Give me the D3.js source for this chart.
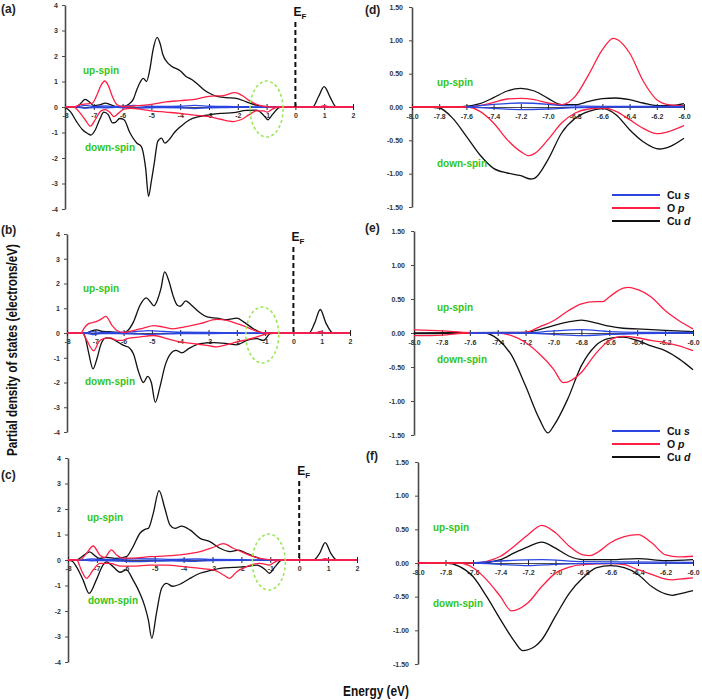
<!DOCTYPE html>
<html><head><meta charset="utf-8">
<script src="https://cdn.jsdelivr.net/npm/d3@7"></script>
<style>body{margin:0;background:#fff}svg{display:block}text{font-family:"Liberation Sans",Arial,sans-serif}</style>
</head><body><svg id="c" width="702" height="700"></svg>
<script>
// ---------- tick values ----------
const leftEnergyTicks = [-8,-7,-6,-5,-4,-3,-2,-1,0,1,2];
const leftDosTicks = [-4,-3,-2,-1,0,1,2,3,4];
const rightEnergyTicks = [-8.0,-7.8,-7.6,-7.4,-7.2,-7.0,-6.8,-6.6,-6.4,-6.2,-6.0];
const rightDosTicks = [-1.5,-1.0,-0.5,0,0.5,1.0,1.5];
const legendNames = [["Cu ","s"],["O ","p"],["Cu ","d"]];

// ---------- panel (a) [energy, PDOS] ----------
const aCuSUp = [[-8,0],[-7.6,0],[-7.3,0.06],[-7.0,0.02],[-6.6,0.04],[-6.2,0.01],[-5.6,0.06],[-5.2,0.03],[-4.6,0.02],[-4.0,0.03],[-3.5,0.06],[-3.0,0.03],[-2.4,0.02],[-1.6,0.01],[-1.2,0],[2,0]];
const aCuSDn = [[-8,0],[-7.6,0],[-7.3,-0.05],[-7.0,-0.02],[-6.6,-0.03],[-6.2,-0.01],[-5.6,-0.05],[-5.2,-0.03],[-4.6,-0.02],[-4.0,-0.03],[-3.5,-0.06],[-3.0,-0.03],[-2.4,-0.02],[-1.6,-0.01],[-1.2,0],[2,0]];
const aOpUp = [[-8,0],[-7.7,0],[-7.45,0.1],[-7.25,0.12],[-7.05,0.15],[-6.9,0.45],[-6.75,0.85],[-6.62,1.02],[-6.5,0.85],[-6.35,0.4],[-6.2,0.1],[-6.0,0.02],[-5.8,0.02],[-5.5,0.05],[-5.0,0.1],[-4.5,0.2],[-4.0,0.25],[-3.5,0.3],[-3.0,0.42],[-2.5,0.45],[-2.1,0.56],[-1.85,0.45],[-1.6,0.25],[-1.35,0.1],[-1.1,0.03],[-0.8,0],[0.8,0],[1.0,0.05],[1.2,0],[2,0]];
const aOpDn = [[-8,0],[-7.7,0],[-7.5,-0.2],[-7.3,-0.5],[-7.12,-0.75],[-6.95,-0.5],[-6.75,-0.15],[-6.6,-0.1],[-6.45,-0.2],[-6.3,-0.38],[-6.15,-0.25],[-5.95,-0.08],[-5.7,-0.05],[-5.3,-0.1],[-5.0,-0.15],[-4.5,-0.2],[-4.0,-0.25],[-3.5,-0.32],[-3.0,-0.38],[-2.6,-0.48],[-2.15,-0.57],[-1.9,-0.5],[-1.6,-0.3],[-1.35,-0.15],[-1.1,-0.15],[-0.98,-0.2],[-0.8,-0.08],[-0.6,0],[2,0]];
const aCuDUp = [[-8,0],[-7.6,0],[-7.45,0.15],[-7.3,0.3],[-7.15,0.2],[-7.0,0.05],[-6.8,0.08],[-6.6,0.15],[-6.4,0.08],[-6.2,0.02],[-6.0,0.02],[-5.8,0.1],[-5.63,0.3],[-5.5,0.7],[-5.4,0.95],[-5.28,1.12],[-5.17,1.0],[-5.05,1.5],[-4.95,2.2],[-4.8,2.73],[-4.7,2.5],[-4.6,2.05],[-4.45,1.75],[-4.3,1.6],[-4.0,1.42],[-3.8,1.2],[-3.6,1.08],[-3.4,0.9],[-3.2,0.7],[-3.0,0.55],[-2.75,0.43],[-2.4,0.37],[-2.05,0.34],[-1.7,0.2],[-1.35,0.07],[-1.0,0],[0.6,0],[0.8,0.4],[1.0,0.8],[1.2,0.4],[1.4,0.02],[1.5,0],[2,0]];
const aCuDDn = [[-8,0],[-7.8,-0.2],[-7.6,-0.57],[-7.4,-0.88],[-7.2,-1.05],[-7.1,-1.1],[-6.95,-0.9],[-6.8,-0.5],[-6.65,-0.2],[-6.5,-0.3],[-6.35,-0.62],[-6.25,-0.6],[-6.1,-0.45],[-5.95,-0.5],[-5.75,-1.0],[-5.5,-1.42],[-5.35,-1.55],[-5.2,-2.4],[-5.1,-3.5],[-5.0,-2.9],[-4.9,-2.2],[-4.78,-1.35],[-4.65,-1.22],[-4.53,-1.42],[-4.4,-1.3],[-4.2,-1.0],[-4.0,-0.78],[-3.7,-0.52],[-3.35,-0.38],[-3.0,-0.31],[-2.6,-0.25],[-2.15,-0.22],[-1.7,-0.13],[-1.35,-0.12],[-1.12,-0.3],[-0.95,-0.5],[-0.8,-0.3],[-0.6,-0.05],[-0.5,0],[2,0]];

// ---------- panel (b) ----------
const bCuSUp = [[-8,0],[-7.4,0],[-7.1,0.05],[-6.8,0.02],[-6.2,0.02],[-5.6,0.05],[-5.1,0.1],[-4.6,0.06],[-4.0,0.03],[-3.0,0.02],[-2.0,0.01],[-1.2,0],[2,0]];
const bCuSDn = [[-8,0],[-7.4,0],[-7.1,-0.06],[-6.8,-0.02],[-6.2,-0.02],[-5.6,-0.04],[-5.1,-0.06],[-4.6,-0.04],[-4.0,-0.02],[-3.0,-0.02],[-2.0,-0.01],[-1.2,0],[2,0]];
const bOpUp = [[-8,0],[-7.5,0],[-7.41,0.17],[-7.24,0.38],[-7.0,0.45],[-6.82,0.54],[-6.63,0.67],[-6.41,0.31],[-6.24,0.1],[-6.0,0.02],[-5.65,0.1],[-5.3,0.2],[-4.94,0.3],[-4.59,0.24],[-4.24,0.17],[-3.88,0.24],[-3.3,0.38],[-2.7,0.55],[-2.35,0.51],[-2.0,0.38],[-1.65,0.24],[-1.29,0.07],[-0.94,0],[0.75,0],[0.95,0.06],[1.15,0],[2,0]];
const bOpDn = [[-8,0],[-7.45,0],[-7.3,-0.3],[-7.05,-0.72],[-6.88,-0.36],[-6.7,-0.23],[-6.47,-0.2],[-6.24,-0.3],[-6.06,-0.3],[-5.88,-0.23],[-5.41,-0.16],[-4.94,-0.1],[-4.47,-0.23],[-4.0,-0.36],[-3.53,-0.43],[-3.06,-0.5],[-2.7,-0.56],[-2.35,-0.47],[-2.0,-0.36],[-1.65,-0.27],[-1.29,-0.16],[-0.94,-0.03],[-0.7,0],[2,0]];
const bCuDUp = [[-8,0],[-7.3,0],[-7.15,0.08],[-6.95,0.13],[-6.75,0.06],[-6.5,0.05],[-6.2,0.02],[-6.0,0.01],[-5.85,0.1],[-5.65,0.45],[-5.42,1.12],[-5.2,1.42],[-5.05,1.25],[-4.93,1.1],[-4.8,1.35],[-4.68,1.8],[-4.55,2.47],[-4.4,2.1],[-4.25,1.5],[-4.1,1.12],[-4.0,1.08],[-3.8,1.3],[-3.6,1.12],[-3.3,0.82],[-3.05,0.65],[-2.7,0.6],[-2.35,0.54],[-2.0,0.6],[-1.76,0.45],[-1.41,0.17],[-1.06,0],[0.55,0],[0.75,0.4],[0.95,0.95],[1.15,0.4],[1.4,0],[2,0]];
const bCuDDn = [[-8,0],[-7.45,0],[-7.35,-0.2],[-7.24,-0.77],[-7.08,-1.45],[-6.94,-1.03],[-6.8,-0.45],[-6.62,-0.2],[-6.45,-0.22],[-6.3,-0.3],[-6.0,-0.5],[-5.82,-0.58],[-5.65,-0.85],[-5.47,-1.57],[-5.3,-2.0],[-5.15,-1.75],[-5.02,-2.0],[-4.88,-2.8],[-4.72,-2.2],[-4.53,-1.3],[-4.35,-0.85],[-4.15,-0.7],[-3.95,-0.8],[-3.7,-0.63],[-3.3,-0.43],[-2.82,-0.39],[-2.35,-0.43],[-2.0,-0.48],[-1.65,-0.3],[-1.29,-0.23],[-1.06,-0.3],[-0.82,-0.03],[-0.6,0],[2,0]];

// ---------- panel (c) ----------
const cCuSUp = [[-8,0],[-7.5,0],[-7.2,0.04],[-6.8,0.02],[-6.2,0.03],[-5.6,0.05],[-5.0,0.04],[-4.4,0.02],[-3.6,0.04],[-3.0,0.02],[-2.0,0.01],[-1.2,0],[2,0]];
const cCuSDn = [[-8,0],[-7.5,0],[-7.2,-0.03],[-6.8,-0.02],[-6.2,-0.04],[-5.6,-0.06],[-5.0,-0.04],[-4.4,-0.03],[-3.6,-0.05],[-3.0,-0.02],[-2.0,-0.01],[-1.2,0],[2,0]];
const cOpUp = [[-8,0],[-7.6,0],[-7.36,0.26],[-7.13,0.55],[-6.9,0.2],[-6.73,0.1],[-6.5,0.4],[-6.32,0.2],[-6.1,0.07],[-5.75,0.07],[-5.17,0.13],[-4.59,0.16],[-4.0,0.22],[-3.43,0.33],[-2.97,0.5],[-2.62,0.64],[-2.28,0.46],[-1.93,0.29],[-1.58,0.13],[-1.24,0.04],[-0.89,0],[0.7,0],[0.9,0.05],[1.1,0],[2,0]];
const cOpDn = [[-8,0],[-7.7,0],[-7.54,-0.39],[-7.36,-0.72],[-7.13,-0.39],[-6.9,-0.13],[-6.55,-0.13],[-6.2,-0.24],[-5.75,-0.24],[-5.17,-0.2],[-4.59,-0.2],[-4.0,-0.26],[-3.43,-0.33],[-2.97,-0.39],[-2.6,-0.6],[-2.42,-0.72],[-2.16,-0.46],[-1.82,-0.26],[-1.36,-0.13],[-1.03,-0.2],[-0.77,-0.03],[-0.6,0],[2,0]];
const cCuDUp = [[-8,0],[-7.7,0],[-7.5,0.15],[-7.25,0.32],[-7.05,0.15],[-6.9,0.06],[-6.67,0.1],[-6.32,0.06],[-5.98,0.13],[-5.75,0.52],[-5.51,1.05],[-5.34,1.2],[-5.22,1.24],[-5.05,1.83],[-4.85,2.72],[-4.65,2.03],[-4.47,1.37],[-4.3,1.24],[-4.07,1.33],[-3.78,1.18],[-3.43,0.85],[-3.09,0.72],[-2.74,0.46],[-2.39,0.33],[-2.1,0.39],[-1.82,0.26],[-1.47,0.1],[-1.12,0],[0.5,0],[0.7,0.25],[0.9,0.68],[1.1,0.25],[1.3,0],[2,0]];
const cCuDDn = [[-8,0],[-7.85,-0.05],[-7.71,-0.26],[-7.48,-0.78],[-7.27,-1.31],[-7.02,-0.78],[-6.79,-0.2],[-6.67,-0.07],[-6.44,-0.26],[-6.2,-0.48],[-5.98,-0.39],[-5.75,-0.78],[-5.51,-1.31],[-5.34,-1.83],[-5.22,-2.35],[-5.1,-3.07],[-4.94,-2.09],[-4.76,-1.11],[-4.59,-0.92],[-4.38,-1.03],[-4.07,-0.92],[-3.78,-0.72],[-3.43,-0.52],[-3.09,-0.42],[-2.74,-0.33],[-2.28,-0.29],[-1.82,-0.26],[-1.47,-0.2],[-1.18,-0.37],[-1.03,-0.52],[-0.83,-0.26],[-0.6,0],[2,0]];

// ---------- panel (d) ----------
const dCuSUp = [[-7.6,0],[-7.4,0.04],[-7.2,0.06],[-7.0,0.04],[-6.9,0.02],[-6.6,0.01],[-6.0,0.01]];
const dCuSDn = [[-7.6,0],[-7.4,-0.02],[-7.2,-0.04],[-7.0,-0.03],[-6.8,-0.01],[-6.6,0],[-6.0,0]];
const dOpUp = [[-8,0],[-7.6,0],[-7.5,0.02],[-7.4,0.07],[-7.3,0.12],[-7.2,0.13],[-7.1,0.11],[-7.0,0.06],[-6.9,0.035],[-6.8,0.16],[-6.7,0.49],[-6.6,0.86],[-6.52,1.03],[-6.4,0.81],[-6.3,0.39],[-6.2,0.11],[-6.1,0.03],[-6.0,0.02]];
const dOpDn = [[-8,0],[-7.6,0],[-7.5,-0.065],[-7.4,-0.24],[-7.3,-0.49],[-7.2,-0.67],[-7.14,-0.73],[-7.1,-0.7],[-7.0,-0.49],[-6.9,-0.24],[-6.8,-0.09],[-6.7,-0.03],[-6.6,-0.015],[-6.5,-0.065],[-6.4,-0.19],[-6.3,-0.32],[-6.2,-0.4],[-6.1,-0.36],[-6.0,-0.28]];
const dCuDUp = [[-8,0],[-7.65,0],[-7.5,0.05],[-7.4,0.14],[-7.3,0.24],[-7.2,0.28],[-7.1,0.24],[-7.0,0.13],[-6.9,0.035],[-6.8,0.035],[-6.7,0.085],[-6.6,0.125],[-6.5,0.135],[-6.4,0.11],[-6.3,0.06],[-6.2,0.02],[-6.1,0.02],[-6.0,0.05]];
const dCuDDn = [[-8,0],[-7.9,0],[-7.8,-0.015],[-7.7,-0.17],[-7.6,-0.44],[-7.5,-0.72],[-7.4,-0.92],[-7.3,-0.99],[-7.2,-1.03],[-7.13,-1.08],[-7.1,-1.07],[-7.0,-0.79],[-6.9,-0.39],[-6.8,-0.17],[-6.7,-0.065],[-6.6,-0.025],[-6.5,-0.115],[-6.4,-0.34],[-6.3,-0.52],[-6.18,-0.63],[-6.1,-0.59],[-6.0,-0.47]];

// ---------- panel (e) ----------
const eCuSUp = [[-7.6,0],[-7.2,0],[-7.0,0.03],[-6.8,0.05],[-6.6,0.02],[-6.4,0.01],[-6.0,0.01]];
const eCuSDn = [[-7.6,0],[-7.2,0],[-7.0,-0.02],[-6.8,-0.04],[-6.6,-0.02],[-6.4,-0.01],[-6.0,0]];
const eOpUp = [[-8,0.045],[-7.8,0.03],[-7.6,0.005],[-7.4,0],[-7.2,0.01],[-7.1,0.09],[-7.0,0.18],[-6.9,0.32],[-6.8,0.43],[-6.7,0.46],[-6.65,0.46],[-6.6,0.53],[-6.5,0.66],[-6.46,0.67],[-6.4,0.64],[-6.3,0.53],[-6.2,0.33],[-6.1,0.18],[-6.0,0.06]];
const eOpDn = [[-8,-0.04],[-7.8,-0.03],[-7.6,0],[-7.4,0],[-7.3,-0.04],[-7.2,-0.14],[-7.1,-0.31],[-7.0,-0.53],[-6.93,-0.73],[-6.8,-0.58],[-6.7,-0.31],[-6.6,-0.11],[-6.5,-0.05],[-6.4,-0.07],[-6.3,-0.11],[-6.2,-0.14],[-6.1,-0.19],[-6.0,-0.26]];
const eCuDUp = [[-8,0],[-7.2,0.01],[-7.1,0.05],[-7.0,0.11],[-6.9,0.16],[-6.8,0.19],[-6.7,0.15],[-6.6,0.1],[-6.5,0.07],[-6.4,0.06],[-6.2,0.04],[-6.0,0.02]];
const eCuDDn = [[-8,-0.01],[-7.6,0],[-7.5,0],[-7.4,-0.09],[-7.3,-0.33],[-7.2,-0.78],[-7.1,-1.27],[-7.04,-1.47],[-7.0,-1.37],[-6.9,-0.98],[-6.8,-0.48],[-6.7,-0.19],[-6.6,-0.08],[-6.5,-0.06],[-6.4,-0.11],[-6.3,-0.19],[-6.2,-0.26],[-6.1,-0.38],[-6.0,-0.54]];

// ---------- panel (f) ----------
const fCuSUp = [[-7.6,0],[-7.4,0.03],[-7.1,0.05],[-6.8,0.02],[-6.0,0.01]];
const fCuSDn = [[-7.6,0],[-7.4,-0.02],[-7.2,-0.04],[-7.0,-0.02],[-6.8,-0.01],[-6.0,0]];
const fOpUp = [[-8,0],[-7.6,0],[-7.5,0.025],[-7.4,0.1],[-7.3,0.25],[-7.2,0.42],[-7.1,0.56],[-7.0,0.45],[-6.9,0.25],[-6.8,0.12],[-6.75,0.11],[-6.7,0.15],[-6.6,0.3],[-6.5,0.39],[-6.4,0.42],[-6.3,0.3],[-6.2,0.12],[-6.1,0.09],[-6.0,0.1]];
const fOpDn = [[-8,0],[-7.7,0],[-7.6,-0.07],[-7.5,-0.25],[-7.4,-0.5],[-7.32,-0.71],[-7.2,-0.59],[-7.1,-0.35],[-7.0,-0.15],[-6.9,-0.06],[-6.8,-0.025],[-6.6,-0.01],[-6.5,-0.025],[-6.4,-0.1],[-6.3,-0.17],[-6.2,-0.24],[-6.15,-0.25],[-6.1,-0.24],[-6.0,-0.22]];
const fCuDUp = [[-8,0],[-7.55,0],[-7.4,0.05],[-7.3,0.15],[-7.2,0.24],[-7.1,0.31],[-7.0,0.22],[-6.9,0.1],[-6.8,0.05],[-6.6,0.05],[-6.4,0.065],[-6.2,0.035],[-6.0,0.05]];
const fCuDDn = [[-8,0],[-7.8,0],[-7.7,-0.05],[-7.6,-0.2],[-7.5,-0.5],[-7.4,-0.84],[-7.3,-1.16],[-7.24,-1.3],[-7.15,-1.24],[-7.1,-1.14],[-7.0,-0.79],[-6.9,-0.45],[-6.8,-0.22],[-6.7,-0.07],[-6.6,-0.04],[-6.5,-0.07],[-6.4,-0.17],[-6.3,-0.35],[-6.2,-0.46],[-6.15,-0.48],[-6.1,-0.46],[-6.0,-0.41]];

// ---------- styling ----------
const COL = {s:"#2b45e0", p:"#ff1f45", d:"#111111"};
const GREEN = "#33c41a";
const AX = "#4a4a4a";
const svg = d3.select("#c");

function drawPanel(cfg){
  const x = d3.scaleLinear().domain(cfg.xd).range([cfg.x0, cfg.x1]);
  const y = d3.scaleLinear().domain(cfg.yd).range([cfg.yb, cfg.yt]);
  const g = svg.append("g");
  const ya = g.append("g").attr("transform", `translate(${cfg.x0},0)`)
    .call(d3.axisLeft(y).tickValues(cfg.yTicks).tickSizeInner(3).tickSizeOuter(0).tickPadding(cfg.yPad).tickFormat(cfg.yFmt));
  ya.select(".domain").attr("stroke", AX).attr("stroke-width", 1.6);
  ya.selectAll(".tick line").attr("stroke", AX);
  ya.selectAll("text").attr("font-size", 7).attr("font-weight", "bold").attr("fill", "#333").attr("font-family","Liberation Sans, Arial, sans-serif");
  const y0 = y(0);
  const xa = g.append("g").attr("transform", `translate(0,${y0})`)
    .call(d3.axisBottom(x).tickValues(cfg.xTicks).tickSizeInner(3).tickSizeOuter(0).tickPadding(cfg.xPad).tickFormat(cfg.xFmt));
  xa.select(".domain").attr("stroke", AX).attr("stroke-width", 1.2);
  xa.selectAll(".tick line").attr("stroke", "#222").attr("y1", -3).attr("y2", 3);
  xa.selectAll("text").attr("font-size", 7).attr("font-weight", "bold").attr("fill", "#333").attr("font-family","Liberation Sans, Arial, sans-serif");
  const line = d3.line().x(d => x(d[0])).y(d => y(d[1])).curve(d3.curveMonotoneX);
  cfg.series.forEach(s => {
    g.append("path").datum(s.data).attr("d", line).attr("fill", "none")
      .attr("stroke", s.color).attr("stroke-width", 1.3).attr("stroke-linejoin","round");
  });
  g.append("text").attr("x", cfg.upPos[0]).attr("y", cfg.upPos[1]).text("up-spin")
    .attr("fill", GREEN).attr("font-size", 10).attr("font-weight", "bold");
  g.append("text").attr("x", cfg.dnPos[0]).attr("y", cfg.dnPos[1]).text("down-spin")
    .attr("fill", GREEN).attr("font-size", 10).attr("font-weight", "bold");
  g.append("text").attr("x", cfg.lab[0]).attr("y", cfg.lab[1]).text(cfg.label)
    .attr("font-size", 12).attr("font-weight", "bold").attr("fill", "#222");
  if (cfg.ef) {
    g.append("line").attr("x1", x(0)).attr("x2", x(0)).attr("y1", cfg.ef.top).attr("y2", y0)
      .attr("stroke", "#111").attr("stroke-width", 2).attr("stroke-dasharray", "5,3");
    const t = g.append("text").attr("x", x(0) - 2).attr("y", cfg.ef.top - 6)
      .attr("font-size", 12).attr("font-weight", "bold").attr("fill", "#111");
    t.append("tspan").text("E");
    t.append("tspan").text("F").attr("font-size", 8).attr("dy", 3);
    g.append("ellipse").attr("cx", x(cfg.ef.ellE)).attr("cy", y0 + 2).attr("rx", 16.5).attr("ry", 28)
      .attr("fill", "none").attr("stroke", "#9be85a").attr("stroke-width", 1.6).attr("stroke-dasharray", "3,2.5");
  }
}

const fmtInt = d => String(d);
const fmt1 = d => d.toFixed(1);
const fmt2 = d => d.toFixed(2);

function leftCfg(o){ return Object.assign({xd:[-8,2], yd:[-4,4], xTicks:leftEnergyTicks, yTicks:leftDosTicks, xFmt:fmtInt, yFmt:fmtInt, yPad:4, xPad:3}, o); }
function rightCfg(o){ return Object.assign({xd:[-8,-6], yd:[-1.5,1.5], xTicks:rightEnergyTicks, yTicks:rightDosTicks, xFmt:fmt1, yFmt:fmt2, yPad:6, xPad:4}, o); }
function leftSeries(sUp,sDn,pUp,pDn,dUp,dDn){
  return [{data:dUp,color:COL.d},{data:dDn,color:COL.d},{data:sUp,color:COL.s},{data:sDn,color:COL.s},{data:pUp,color:COL.p},{data:pDn,color:COL.p}];
}
function rightSeries(sUp,sDn,pUp,pDn,dUp,dDn){
  return [{data:dUp,color:COL.d},{data:dDn,color:COL.d},{data:pUp,color:COL.p},{data:pDn,color:COL.p},{data:sUp,color:COL.s},{data:sDn,color:COL.s}];
}

drawPanel(leftCfg({x0:65, x1:353, yt:5, yb:209, label:"(a)", lab:[1,13], upPos:[83,74], dnPos:[85,151],
  ef:{top:22, ellE:-1.0}, series:leftSeries(aCuSUp,aCuSDn,aOpUp,aOpDn,aCuDUp,aCuDDn)}));
drawPanel(leftCfg({x0:67, x1:350, yt:234, yb:432, label:"(b)", lab:[1,234], upPos:[83,292], dnPos:[85,385],
  ef:{top:247, ellE:-1.1}, series:leftSeries(bCuSUp,bCuSDn,bOpUp,bOpDn,bCuDUp,bCuDDn)}));
drawPanel(leftCfg({x0:68, x1:357, yt:458, yb:662, label:"(c)", lab:[1,479], upPos:[87,521], dnPos:[88,604],
  ef:{top:481, ellE:-1.05}, series:leftSeries(cCuSUp,cCuSDn,cOpUp,cOpDn,cCuDUp,cCuDDn)}));
drawPanel(rightCfg({x0:412, x1:684, yt:7, yb:207, label:"(d)", lab:[365,14], upPos:[437,86], dnPos:[437,167],
  series:rightSeries(dCuSUp,dCuSDn,dOpUp,dOpDn,dCuDUp,dCuDDn)}));
drawPanel(rightCfg({x0:414, x1:693, yt:231, yb:435, label:"(e)", lab:[365,232], upPos:[437,311], dnPos:[437,363],
  series:rightSeries(eCuSUp,eCuSDn,eOpUp,eOpDn,eCuDUp,eCuDDn)}));
drawPanel(rightCfg({x0:418, x1:693, yt:462, yb:664, label:"(f)", lab:[366,460], upPos:[433,531], dnPos:[433,607],
  series:rightSeries(fCuSUp,fCuSDn,fOpUp,fOpDn,fCuDUp,fCuDDn)}));

function legend(ys){
  const cols = [COL.s, COL.p, COL.d];
  legendNames.forEach((n, i) => {
    svg.append("line").attr("x1", 612).attr("x2", 660).attr("y1", ys[i]).attr("y2", ys[i])
      .attr("stroke", cols[i]).attr("stroke-width", 2);
    const t = svg.append("text").attr("x", 667).attr("y", ys[i] + 4).attr("font-size", 10.5).attr("font-weight", "bold").attr("fill", "#111");
    t.append("tspan").text(n[0]);
    t.append("tspan").text(n[1]).attr("font-style", "italic");
  });
}
legend([195, 208, 221]);
legend([431, 444, 457]);

svg.append("text").attr("transform", "translate(17,350) rotate(-90)").attr("text-anchor", "middle")
  .attr("font-size", 14).attr("font-weight", "bold").attr("fill", "#111")
  .attr("textLength", 212).attr("lengthAdjust", "spacingAndGlyphs")
  .text("Partial density of states (electrons/eV)");
svg.append("text").attr("x", 376).attr("y", 696).attr("text-anchor", "middle")
  .attr("font-size", 14).attr("font-weight", "bold").attr("fill", "#111")
  .attr("textLength", 66).attr("lengthAdjust", "spacingAndGlyphs")
  .text("Energy (eV)");
</script></body></html>
